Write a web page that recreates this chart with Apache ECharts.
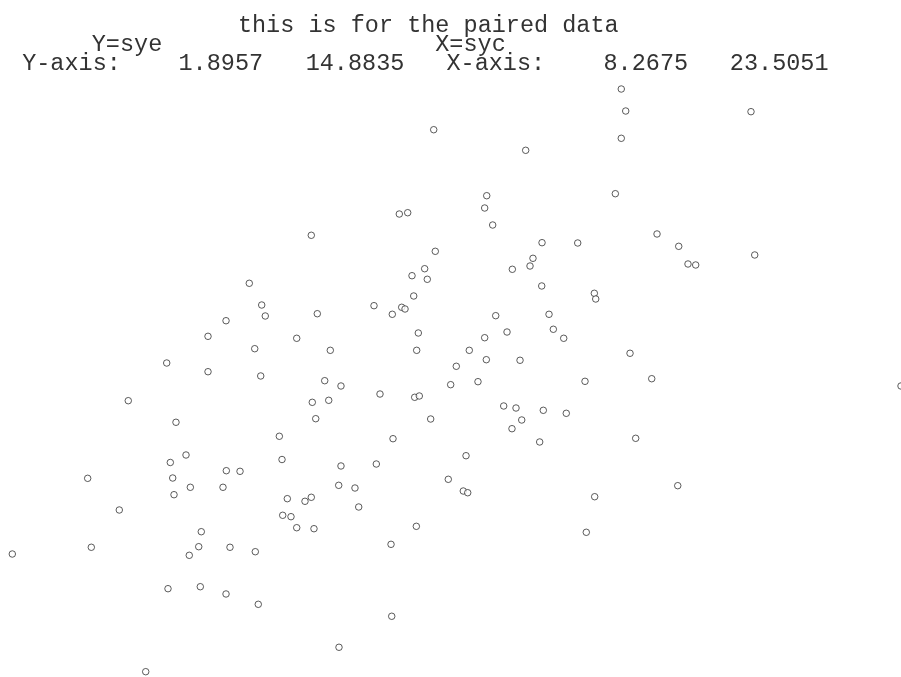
<!DOCTYPE html>
<html>
<head>
<meta charset="utf-8">
<script src="https://cdn.jsdelivr.net/npm/echarts@6/dist/echarts.min.js"></script>
<style>
html,body{margin:0;padding:0;background:#fff;}
#chart{width:901px;height:677px;}
</style>
</head>
<body>
<div id="chart"></div>
<script>
// Paired data: X = syc, Y = sye
var sycValues = [
18.709,18.785,20.933,18.709,18.607,19.322,19.694,20.997,19.853,19.985,
15.493,17.070,16.402,16.367,16.504,14.903,15.047,13.394,15.520,17.350,
17.962,17.195,17.144,16.841,15.338,15.121,15.383,12.331,12.544,12.605,
11.932,11.623,13.144,12.424,10.915,11.623,12.527,10.256,11.074,12.846,
11.246,10.977,12.892,17.345,18.247,18.271,13.497,14.469,14.783,14.944,
15.001,15.150,16.556,17.470,15.229,16.750,17.544,17.722,16.367,13.720,
15.201,16.103,16.395,16.973,15.880,13.624,13.903,15.784,16.252,18.087,
14.572,15.167,15.246,13.411,13.693,13.470,15.441,16.693,16.904,17.002,
17.372,17.766,16.835,17.310,14.795,16.047,13.903,14.509,18.859,19.231,
18.956,23.5051,9.560,11.018,11.937,12.172,11.320,11.880,11.040,12.983,
12.904,13.046,13.144,10.102,11.508,11.464,11.302,12.000,12.434,9.622,
8.2675,10.937,11.491,11.932,12.485,10.555,13.864,14.143,13.394,13.286,
14.207,15.743,16.000,16.076,18.253,13.440,15.195,14.761,18.109,14.773,
13.869,19.677
];
var syeValues = [
14.8835,14.393,14.378,13.785,12.550,11.652,11.377,11.184,10.983,10.961,
13.976,13.517,12.505,12.231,11.852,12.097,12.126,11.623,11.266,11.458,
11.451,11.110,10.938,10.865,10.878,10.722,10.642,10.553,10.069,9.824,
9.719,9.371,9.327,9.095,8.776,8.582,8.487,7.936,7.455,7.143,
6.726,6.559,6.625,10.493,10.330,10.203,9.875,10.054,9.862,10.018,
9.980,10.270,9.831,9.862,9.445,9.467,9.528,9.327,9.340,9.059,
9.059,9.059,8.850,8.837,8.703,8.382,8.264,8.293,8.360,8.368,
8.085,8.012,8.041,7.900,7.945,7.535,7.528,7.818,7.773,7.506,
7.722,7.655,7.312,7.016,7.089,6.710,6.481,6.525,8.993,8.426,
7.098,8.264,6.206,6.213,6.376,6.362,6.006,6.006,5.841,5.752,
5.382,5.351,5.105,5.500,5.016,4.682,4.490,4.669,4.570,4.669,
4.519,3.746,3.790,3.628,3.398,1.8957,6.050,5.990,5.783,5.694,
5.567,6.184,5.923,5.885,5.796,5.083,5.136,4.735,5.003,3.131,
2.440,6.042
];
var titleText = 'this is for the paired data';
var yName = 'Y=sye';
var xName = 'X=syc';
var yRange = ['1.8957', '14.8835'];
var xRange = ['8.2675', '23.5051'];

var points = sycValues.map(function (x, i) { return [x, syeValues[i]]; });

var FONT = '23.5px "Liberation Mono", "Courier New", monospace';
function label(text, x, y) {
  return {
    type: 'text', x: x, y: y, scaleY: 1.05, silent: true,
    style: { text: text, font: FONT, fill: '#333', textAlign: 'center', textVerticalAlign: 'middle' }
  };
}

var chart = echarts.init(document.getElementById('chart'), null, { renderer: 'canvas' });
chart.setOption({
  animation: false,
  backgroundColor: '#fff',
  grid: { left: 12.3, right: 0, top: 89, bottom: 5.3, containLabel: false },
  xAxis: { type: 'value', min: 8.2675, max: 23.5051, show: false },
  yAxis: { type: 'value', min: 1.8957, max: 14.8835, show: false },
  graphic: [
    label(titleText, 428.3, 25.5),
    label(yName, 127, 44),
    label(xName, 470.5, 44),
    label('Y-axis:', 71.5, 63.8),
    label(yRange[0], 220.8, 63.8),
    label(yRange[1], 355, 63.8),
    label('X-axis:', 495.8, 63.8),
    label(xRange[0], 645.8, 63.8),
    label(xRange[1], 779.2, 63.8)
  ],
  series: [{
    type: 'scatter',
    data: points,
    clip: false,
    symbol: 'circle',
    symbolSize: 6.5,
    itemStyle: { color: '#fff', borderColor: '#333', borderWidth: 1 }
  }]
});
</script>
</body>
</html>
